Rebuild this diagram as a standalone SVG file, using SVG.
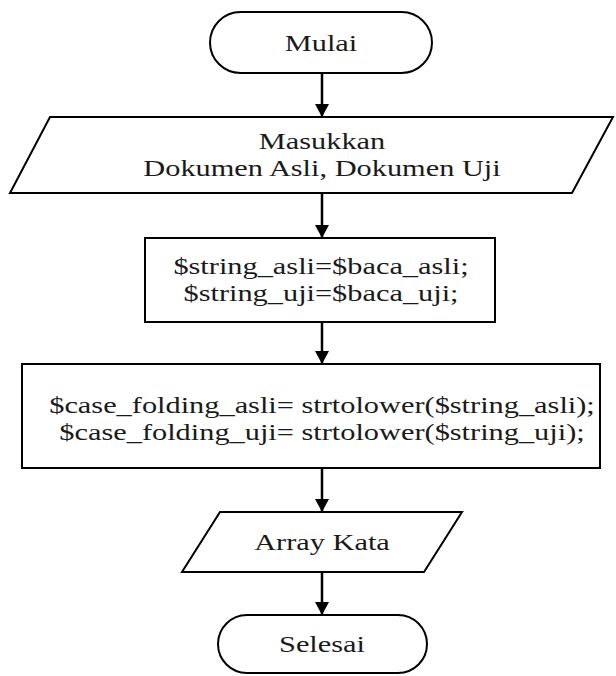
<svg xmlns="http://www.w3.org/2000/svg" width="616" height="676" viewBox="0 0 616 676">
  <defs>
    <marker id="arrowhead" markerUnits="userSpaceOnUse" markerWidth="14" markerHeight="14" refX="13" refY="7" orient="auto" viewBox="0 0 14 14">
      <path d="M0,0 L13,7 L0,14 Z" fill="#000"/>
    </marker>
  </defs>
  <style>
    .shape { fill: #fff; stroke: #000; stroke-width: 2; }
    .flow { fill: none; stroke: #000; stroke-width: 2.5; marker-end: url(#arrowhead); }
    .label { font-family: "Liberation Serif", "Times New Roman", serif; font-size: 23px; fill: #1a1a1a; text-anchor: middle; }
  </style>
  <rect width="616" height="676" fill="#fff"/>

  <!-- start terminal -->
  <g id="mulai">
    <rect class="shape" x="210" y="12" width="222" height="61" rx="30.5"/>
    <text class="label" transform="translate(321 51) scale(1.32 1)">Mulai</text>
  </g>

  <!-- input documents -->
  <g id="masukkan">
    <polygon class="shape" points="50,117 613,117 572,193 10,193"/>
    <text class="label" transform="translate(322 149) scale(1.32 1)">Masukkan</text>
    <text class="label" transform="translate(322 176) scale(1.32 1)">Dokumen Asli, Dokumen Uji</text>
  </g>

  <!-- read strings -->
  <g id="baca-string">
    <rect class="shape" x="145" y="238" width="350" height="84"/>
    <text class="label" transform="translate(321 274) scale(1.32 1)">$string_asli=$baca_asli;</text>
    <text class="label" transform="translate(321 301) scale(1.32 1)">$string_uji=$baca_uji;</text>
  </g>

  <!-- case folding -->
  <g id="case-folding">
    <rect class="shape" x="22" y="364" width="578" height="104"/>
    <text class="label" transform="translate(322 413) scale(1.32 1)">$case_folding_asli= strtolower($string_asli);</text>
    <text class="label" transform="translate(322 440) scale(1.32 1)">$case_folding_uji= strtolower($string_uji);</text>
  </g>

  <!-- output words -->
  <g id="array-kata">
    <polygon class="shape" points="220,512 462,512 424,572 182,572"/>
    <text class="label" transform="translate(322 550) scale(1.32 1)">Array Kata</text>
  </g>

  <!-- end terminal -->
  <g id="selesai">
    <rect class="shape" x="218" y="615" width="209" height="58" rx="29"/>
    <text class="label" transform="translate(322 652) scale(1.32 1)">Selesai</text>
  </g>

  <!-- connectors -->
  <g id="connectors">
    <line class="flow" x1="322" y1="73" x2="322" y2="117"/>
    <line class="flow" x1="322" y1="193" x2="322" y2="238"/>
    <line class="flow" x1="322" y1="322" x2="322" y2="364"/>
    <line class="flow" x1="322" y1="468" x2="322" y2="512"/>
    <line class="flow" x1="322" y1="572" x2="322" y2="615"/>
  </g>
</svg>
